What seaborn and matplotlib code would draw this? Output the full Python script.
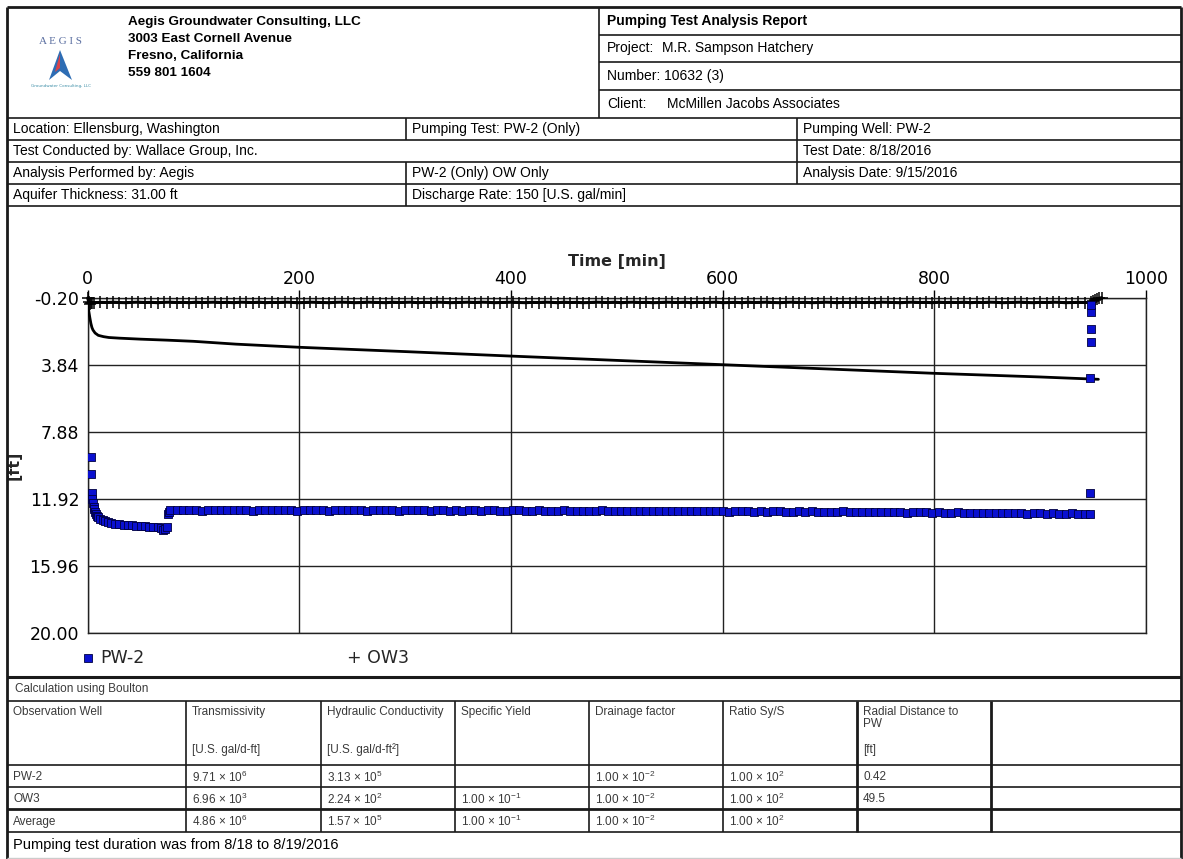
import numpy as np
import pandas as pd
import seaborn as sns
import matplotlib.pyplot as plt
from matplotlib.lines import Line2D
from matplotlib.patches import Polygon

# ---------------- report text ----------------
company_lines = ["Aegis Groundwater Consulting, LLC", "3003 East Cornell Avenue",
                 "Fresno, California", "559 801 1604"]
report_title = "Pumping Test Analysis Report"
project = "M.R. Sampson Hatchery"
number = "Number: 10632 (3)"
client = "McMillen Jacobs Associates"
info_rows = [
    ["Location: Ellensburg, Washington", "Pumping Test: PW-2 (Only)", "Pumping Well: PW-2"],
    ["Test Conducted by: Wallace Group, Inc.", None, "Test Date: 8/18/2016"],
    ["Analysis Performed by: Aegis", "PW-2 (Only) OW Only", "Analysis Date: 9/15/2016"],
    ["Aquifer Thickness: 31.00 ft", "Discharge Rate: 150 [U.S. gal/min]", None],
]

# ---------------- results table ----------------
method_note = "Calculation using Boulton"
col_titles = ["Observation Well", "Transmissivity", "Hydraulic Conductivity", "Specific Yield",
              "Drainage factor", "Ratio Sy/S", "Radial Distance to\nPW", ""]
col_units = ["", "[U.S. gal/d-ft]", "[U.S. gal/d-ft²]", "", "", "", "[ft]", ""]
wells = ["PW-2", "OW3", "Average"]
transmissivity = [r"9.71 × 10$\mathregular{^{6}}$", r"6.96 × 10$\mathregular{^{3}}$", r"4.86 × 10$\mathregular{^{6}}$"]
conductivity = [r"3.13 × 10$\mathregular{^{5}}$", r"2.24 × 10$\mathregular{^{2}}$", r"1.57 × 10$\mathregular{^{5}}$"]
specific_yield = ["", r"1.00 × 10$\mathregular{^{-1}}$", r"1.00 × 10$\mathregular{^{-1}}$"]
drainage = [r"1.00 × 10$\mathregular{^{-2}}$"] * 3
ratio_sy_s = [r"1.00 × 10$\mathregular{^{2}}$"] * 3
radial_dist = ["0.42", "49.5", ""]
footer = "Pumping test duration was from 8/18 to 8/19/2016"

# ---------------- chart data ----------------
x_ticks = [0, 200, 400, 600, 800, 1000]
y_ticks = [-0.20, 3.84, 7.88, 11.92, 15.96, 20.00]

# logger times [min]
log_minutes = [
    6, 12, 18, 24, 30, 36, 42, 48, 54, 60, 66, 72, 78, 84, 90, 96, 102, 108, 114, 120,
    126, 132, 138, 144, 150, 156, 162, 168, 174, 180, 186, 192, 198, 204, 210, 216, 222, 228, 234, 240,
    246, 252, 258, 264, 270, 276, 282, 288, 294, 300, 306, 312, 318, 324, 330, 336, 342, 348, 354, 360,
    366, 372, 378, 384, 390, 396, 402, 408, 414, 420, 426, 432, 438, 444, 450, 456, 462, 468, 474, 480,
    486, 492, 498, 504, 510, 516, 522, 528, 534, 540, 546, 552, 558, 564, 570, 576, 582, 588, 594, 600,
    606, 612, 618, 624, 630, 636, 642, 648, 654, 660, 666, 672, 678, 684, 690, 696, 702, 708, 714, 720,
    726, 732, 738, 744, 750, 756, 762, 768, 774, 780, 786, 792, 798, 804, 810, 816, 822, 828, 834, 840,
    846, 852, 858, 864, 870, 876, 882, 888, 894, 900, 906, 912, 918, 924, 930, 936, 942]

# PW-2 drawdown [ft]
pw2_early_t = [3.0, 3.5, 4.0, 4.5, 5.0, 5.5, 6.0, 7.0, 8.0, 9.0, 10.0, 12.0, 14.0, 16.0, 19.0, 22.0,
               26.0, 30.0, 34.0, 38.0, 42.0, 46.0, 50.0, 54.0, 58.0, 62.0, 66.0, 69.0, 71.0, 73.0,
               74.5, 76.0, 77.0]
pw2_early_s = [9.39, 10.43, 11.60, 11.95, 12.20, 12.40, 12.55, 12.70, 12.85, 12.95, 13.05, 13.15,
               13.22, 13.28, 13.33, 13.38, 13.42, 13.46, 13.48, 13.50, 13.52, 13.55, 13.57, 13.58,
               13.60, 13.62, 13.64, 13.70, 13.80, 13.72, 13.60, 12.85, 12.70]
pw2_late_s = [
    12.62, 12.60, 12.63, 12.61, 12.60, 12.64, 12.62, 12.61, 12.60, 12.63, 12.62, 12.60, 12.61, 12.64, 12.62, 12.60, 12.63, 12.61, 12.62, 12.60,
    12.64, 12.62, 12.61, 12.60, 12.63, 12.65, 12.62, 12.61, 12.63, 12.60, 12.62, 12.64, 12.61, 12.63, 12.62, 12.60, 12.64, 12.62, 12.63, 12.61,
    12.62, 12.64, 12.63, 12.61, 12.65, 12.62, 12.64, 12.63, 12.61, 12.66, 12.63, 12.62, 12.64, 12.65, 12.62, 12.63, 12.66, 12.64, 12.62, 12.65,
    12.64, 12.66, 12.63, 12.65, 12.67, 12.64, 12.66, 12.65, 12.63, 12.67, 12.65, 12.66, 12.64, 12.68, 12.66, 12.65, 12.67, 12.64, 12.66, 12.68,
    12.66, 12.68, 12.65, 12.67, 12.69, 12.66, 12.68, 12.67, 12.70, 12.68, 12.66, 12.69, 12.71, 12.68, 12.70, 12.67, 12.69, 12.72, 12.70, 12.68,
    12.71, 12.69, 12.72, 12.70, 12.73, 12.71, 12.69, 12.74, 12.72, 12.70, 12.73, 12.75, 12.72, 12.74, 12.71, 12.73, 12.76, 12.74, 12.72, 12.75,
    12.77, 12.74, 12.76, 12.78, 12.75, 12.77, 12.79, 12.76, 12.78, 12.80, 12.77, 12.79, 12.81, 12.78, 12.80, 12.82, 12.79, 12.81, 12.83, 12.80,
    12.82, 12.84, 12.81, 12.83, 12.85]
pw2_recovery_t = [947.0, 947.2, 947.4, 947.6, 947.8, 948.0, 948.2]
pw2_recovery_s = [12.85, 11.60, 4.66, 2.49, 1.71, 0.64, 0.25]

# OW3 drawdown [ft]
ow3_early_t = [0, 1, 2, 3, 4]
ow3_early_s = [-0.18, 0.05, 0.15, 0.12, 0.10]
ow3_log_s = [
    0.10, 0.08, 0.09, 0.07, 0.09, 0.10, 0.08, 0.07, 0.09, 0.08, 0.10, 0.08, 0.07, 0.09, 0.08, 0.10, 0.07, 0.09, 0.08, 0.07,
    0.09, 0.08, 0.10, 0.07, 0.08, 0.09, 0.07, 0.10, 0.08, 0.09, 0.07, 0.08, 0.10, 0.09, 0.07, 0.08, 0.09, 0.10, 0.08, 0.07,
    0.08, 0.10, 0.09, 0.07, 0.08, 0.09, 0.10, 0.07, 0.09, 0.08, 0.07, 0.10, 0.08, 0.09, 0.07, 0.08, 0.10, 0.09, 0.08, 0.07,
    0.09, 0.07, 0.08, 0.10, 0.09, 0.08, 0.07, 0.09, 0.10, 0.08, 0.09, 0.07, 0.08, 0.10, 0.07, 0.09, 0.08, 0.10, 0.09, 0.07,
    0.08, 0.09, 0.07, 0.10, 0.08, 0.07, 0.09, 0.08, 0.10, 0.09, 0.07, 0.08, 0.09, 0.07, 0.10, 0.08, 0.09, 0.08, 0.07, 0.10,
    0.09, 0.08, 0.10, 0.07, 0.09, 0.08, 0.07, 0.09, 0.10, 0.08, 0.07, 0.09, 0.08, 0.10, 0.09, 0.07, 0.08, 0.10, 0.08, 0.09,
    0.07, 0.09, 0.08, 0.10, 0.07, 0.08, 0.09, 0.10, 0.08, 0.07, 0.09, 0.08, 0.10, 0.07, 0.09, 0.08, 0.09, 0.07, 0.10, 0.08,
    0.09, 0.07, 0.08, 0.10, 0.09, 0.08, 0.07, 0.09, 0.10, 0.08, 0.09, 0.07, 0.08, 0.10, 0.09, 0.08, 0.09]
ow3_recovery_t = [948, 950, 952, 954, 956, 958]
ow3_recovery_s = [0.08, 0.02, -0.06, -0.12, -0.17, -0.20]

# Boulton type curve
fit_t = [0, 0.5, 1, 2, 3, 4, 5, 7, 10, 15, 20, 30, 50, 75, 100, 140, 200, 300, 400, 500,
         600, 700, 800, 900, 955]
fit_s = [0.00, 0.35, 0.60, 1.00, 1.35, 1.60, 1.75, 1.93, 2.07, 2.15, 2.20, 2.24, 2.30, 2.36,
         2.43, 2.60, 2.79, 3.05, 3.32, 3.58, 3.84, 4.10, 4.36, 4.58, 4.72]

pw2 = pd.DataFrame({
    "t": pw2_early_t + [m for m in log_minutes if m >= 78] + pw2_recovery_t,
    "s": pw2_early_s + pw2_late_s + pw2_recovery_s})
ow3 = pd.DataFrame({
    "t": ow3_early_t + log_minutes + ow3_recovery_t,
    "s": ow3_early_s + ow3_log_s + ow3_recovery_s})
fit = pd.DataFrame({"t": fit_t, "s": fit_s})

# ---------------- figure ----------------
sns.set_style("white")
plt.rcParams["font.family"] = ["DejaVu Sans"]

W, H = 1183, 859
fig = plt.figure(figsize=(W / 100, H / 100), dpi=100)
fig.patch.set_facecolor("white")


def fx(x):
    return x / W


def fy(y):
    return 1 - y / H


def hline(y, x0=7, x1=1181, lw=1.2, color="#1a1a1a"):
    fig.add_artist(Line2D([fx(x0), fx(x1)], [fy(y), fy(y)], transform=fig.transFigure,
                          lw=lw, color=color, solid_capstyle="butt"))


def vline(x, y0, y1, lw=1.2, color="#1a1a1a"):
    fig.add_artist(Line2D([fx(x), fx(x)], [fy(y0), fy(y1)], transform=fig.transFigure,
                          lw=lw, color=color, solid_capstyle="butt"))


def txt(x, y, s, size=10, weight="normal", color="black", va="center", **kw):
    fig.text(fx(x), fy(y), s, fontsize=size, fontweight=weight, color=color, va=va, ha="left",
             family=["Liberation Sans", "DejaVu Sans"], **kw)


# ---- header block ----
for i, line in enumerate(company_lines):
    txt(128, 22 + 17 * i, line, size=9.7, weight="bold")
fig.text(fx(61), fy(42), "A E G I S", fontsize=8, color="#5a6ea0", ha="center", va="center",
         family="Liberation Serif")
fig.add_artist(Polygon([(fx(60), fy(50)), (fx(49), fy(80)), (fx(60), fy(71)), (fx(72), fy(80))],
                       closed=True, transform=fig.transFigure, fc="#2e6db4", ec="none"))
fig.add_artist(Polygon([(fx(60), fy(54)), (fx(55), fy(72)), (fx(60), fy(68))],
                       closed=True, transform=fig.transFigure, fc="#d9434a", ec="none"))
fig.text(fx(61), fy(86), "Groundwater Consulting, LLC", fontsize=3, color="#3f8fa8",
         ha="center", va="center")

txt(607, 21, report_title, size=10, weight="bold")
txt(607, 48, "Project:", size=10)
txt(662, 48, project, size=10)
txt(607, 76, number, size=10)
txt(607, 104, "Client:", size=10)
txt(667, 104, client, size=10)

# ---- info rows ----
row_edges = [118, 140, 162, 184, 206]
col_x = [7, 406, 797]
for r, row in enumerate(info_rows):
    yc = (row_edges[r] + row_edges[r + 1]) / 2
    for c, cell in enumerate(row):
        if cell is not None:
            txt(col_x[c] + 6, yc, cell, size=10)
            if c > 0:
                vline(col_x[c], row_edges[r], row_edges[r + 1])

# ---- frame lines ----
hline(7, lw=2)
vline(7, 7, 859, lw=2)
vline(1181, 7, 859, lw=2)
vline(599, 7, 118)
for y in [35, 62, 90]:
    hline(y, 599, 1181)
for y in row_edges:
    hline(y)
hline(677, lw=2.2)
hline(701)
hline(858, lw=1, color="#cccccc")

# ---- chart ----
ax = fig.add_axes([fx(87.7), fy(632.7), fx(1146) - fx(87.7), fy(297.7) - fy(632.7)])
ax.set_axisbelow(True)
ax.grid(True, color="#222222", lw=1.0)

# OW3: dense logger record -> thick band of "+" marks
sns.lineplot(data=ow3, x="t", y="s", color="black", lw=2.2, marker="+", markersize=8,
             markeredgewidth=1.1, markeredgecolor="black", ax=ax, zorder=3, clip_on=False)
sns.lineplot(data=fit, x="t", y="s", color="black", lw=2.0, ax=ax, zorder=4)
sns.scatterplot(data=pw2, x="t", y="s", marker="s", color="#0a10d0", edgecolor="#000040",
                s=30, linewidth=0.6, ax=ax, zorder=5)

ax.set_xlim(0, 1000)
ax.set_ylim(20.0, -0.20)
ax.set_xticks(x_ticks)
ax.set_xticklabels([str(v) for v in x_ticks])
ax.set_yticks(y_ticks)
ax.set_yticklabels([f"{v:.2f}" for v in y_ticks])
ax.xaxis.tick_top()
ax.xaxis.set_label_position("top")
ax.tick_params(axis="x", length=6, width=1, pad=1, labelsize=12.5, colors="black")
ax.tick_params(axis="y", length=5.5, width=1, pad=0.5, labelsize=12.5, colors="black")
ax.set_xlabel("Time [min]", fontsize=11.5, fontweight="bold", labelpad=3)
ax.set_ylabel("[ft]", fontsize=11.5, fontweight="bold", labelpad=6)
for sp in ax.spines.values():
    sp.set_visible(True)
    sp.set_color("#222222")
    sp.set_linewidth(1.0)

# legend
fig.add_artist(Line2D([fx(88)], [fy(658)], marker="s", ms=5.5, color="#0a10d0", mec="#000040",
                      mew=0.6, transform=fig.transFigure, lw=0))
fig.text(fx(100), fy(658), "PW-2", fontsize=12.5, va="center", ha="left")
fig.text(fx(347), fy(658), "+ OW3", fontsize=12.5, va="center", ha="left")

# ---- results table ----
tbl_x = [7, 186, 321, 455, 589, 723, 857, 991, 1181]
tbl_y = [701, 765, 787, 809, 832]
gray = "#3a3a3a"
txt(15, 689, method_note, size=8.5, color=gray)
for c, (title, unit) in enumerate(zip(col_titles, col_units)):
    x0 = tbl_x[c] + 6
    if title:
        fig.text(fx(x0), fy(706), title, fontsize=8.5, color=gray, va="top", ha="left",
                 linespacing=1.05, family=["Liberation Sans", "DejaVu Sans"])
    if unit:
        txt(x0, 750, unit, size=8.5, color=gray)
columns = [wells, transmissivity, conductivity, specific_yield, drainage, ratio_sy_s, radial_dist]
for r in range(len(wells)):
    yc = (tbl_y[r + 1] + tbl_y[r + 2]) / 2
    for c, col in enumerate(columns):
        if col[r]:
            txt(tbl_x[c] + 6, yc + 1, col[r], size=8.5, color=gray)
for y in tbl_y[1:]:
    hline(y, lw=2.0 if y == 809 else 1.2)
for x in tbl_x[1:-1]:
    vline(x, tbl_y[0], tbl_y[-1], lw=2.0 if x in (857, 991) else 1.2)

txt(13, 845, footer, size=10.5)

fig.savefig("out.png", dpi=100)
